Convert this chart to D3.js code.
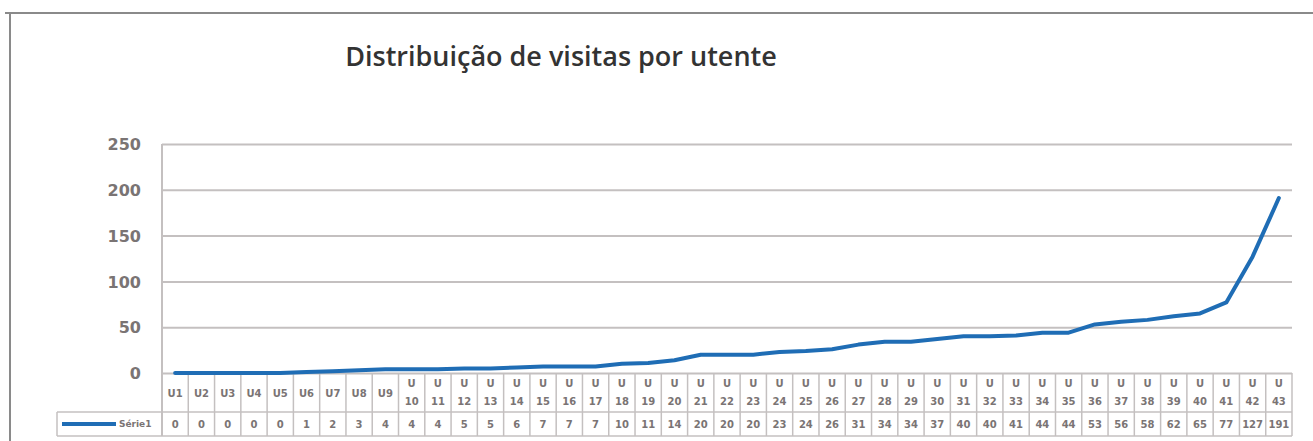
<!DOCTYPE html>
<html><head><meta charset="utf-8">
<script src="https://cdn.jsdelivr.net/npm/d3@7"></script>
<style>
html,body{margin:0;padding:0;background:#fff;}
svg{display:block;}
</style></head>
<body><svg id="c" width="1313" height="441"></svg>
<script>
const title = "Distribuição de visitas por utente";
const seriesName = "Série1";
const categories = ["U1","U2","U3","U4","U5","U6","U7","U8","U9","U10","U11","U12","U13","U14","U15","U16","U17","U18","U19","U20","U21","U22","U23","U24","U25","U26","U27","U28","U29","U30","U31","U32","U33","U34","U35","U36","U37","U38","U39","U40","U41","U42","U43"];
const values = [0,0,0,0,0,1,2,3,4,4,4,5,5,6,7,7,7,10,11,14,20,20,20,23,24,26,31,34,34,37,40,40,41,44,44,53,56,58,62,65,77,127,191];
const yTicks = [0,50,100,150,200,250];

const svg = d3.select("#c");
const L = 162, R = 1292, T = 144, B = 373;
const rowSplit = 412, tableBottom = 436, legendLeft = 57;
const grid = "#c4c0c0", textCol = "#7a7474", blue = "#1f6db5";

// chart frame
svg.append("line").attr("x1",5).attr("x2",1313).attr("y1",13).attr("y2",13).attr("stroke","#8a8a8a").attr("stroke-width",2);
svg.append("line").attr("x1",10).attr("x2",10).attr("y1",13).attr("y2",441).attr("stroke","#8a8a8a").attr("stroke-width",2);

// title
svg.append("text").attr("x",561).attr("y",66).attr("text-anchor","middle")
  .attr("font-family","Open Sans, sans-serif").attr("font-weight",600).attr("font-size",27)
  .attr("fill","#333").text(title);

const x = d3.scaleBand().domain(categories).range([L,R]);
const y = d3.scaleLinear().domain([0,250]).range([B,T]);

// gridlines + y labels
const yAxis = d3.axisLeft(y).tickValues(yTicks).tickSize(-(R-L)).tickFormat(d3.format("d"));
const ga = svg.append("g").attr("transform",`translate(${L},0)`).call(yAxis);
ga.select(".domain").remove();
ga.selectAll(".tick line").attr("stroke",grid).attr("stroke-width",2);
ga.selectAll(".tick text").attr("x",-21).attr("dy","0.35em")
  .attr("font-family","DejaVu Sans, sans-serif").attr("font-weight","bold").attr("font-size",16).attr("fill",textCol);

// left axis line
svg.append("line").attr("x1",L).attr("x2",L).attr("y1",T).attr("y2",tableBottom).attr("stroke",grid).attr("stroke-width",2);

// table lines
const bounds = categories.map(c=>x(c)).concat([R]);
svg.append("g").selectAll("line").data(bounds).join("line")
  .attr("x1",d=>d).attr("x2",d=>d).attr("y1",B).attr("y2",tableBottom)
  .attr("stroke",grid).attr("stroke-width",1.5);
svg.append("line").attr("x1",legendLeft).attr("x2",R).attr("y1",rowSplit).attr("y2",rowSplit).attr("stroke",grid).attr("stroke-width",1.5);
svg.append("line").attr("x1",legendLeft).attr("x2",R).attr("y1",tableBottom).attr("y2",tableBottom).attr("stroke",grid).attr("stroke-width",1.5);
svg.append("line").attr("x1",legendLeft).attr("x2",legendLeft).attr("y1",rowSplit).attr("y2",tableBottom).attr("stroke",grid).attr("stroke-width",1.5);

// header labels
const hdr = svg.append("g").attr("font-family","DejaVu Sans, sans-serif").attr("font-weight","bold").attr("font-size",10).attr("fill",textCol).attr("text-anchor","middle");
categories.forEach(c=>{
  const cx = x(c)+x.bandwidth()/2;
  const num = c.slice(1);
  if(num.length===1){
    hdr.append("text").attr("x",cx).attr("y",393).attr("dy","0.35em").text(c);
  } else {
    const t = hdr.append("text").attr("x",cx);
    t.append("tspan").attr("x",cx).attr("y",383).attr("dy","0.35em").text("U");
    t.append("tspan").attr("x",cx).attr("y",401).attr("dy","0.35em").text(num);
  }
});

// data row
svg.append("g").selectAll("text").data(values).join("text")
  .attr("x",(d,i)=>x(categories[i])+x.bandwidth()/2).attr("y",424).attr("dy","0.35em")
  .attr("text-anchor","middle").attr("font-family","DejaVu Sans, sans-serif").attr("font-weight","bold")
  .attr("font-size",10).attr("fill",textCol).text(d=>d);

// legend
svg.append("line").attr("x1",62).attr("x2",116).attr("y1",424).attr("y2",424).attr("stroke",blue).attr("stroke-width",4);
svg.append("text").attr("x",119).attr("y",424).attr("dy","0.35em").attr("font-family","DejaVu Sans, sans-serif")
  .attr("font-weight","bold").attr("font-size",9).attr("fill",textCol).text(seriesName);

// series line
const line = d3.line().x((d,i)=>x(categories[i])+x.bandwidth()/2).y(d=>y(d));
svg.append("path").datum(values).attr("d",line).attr("fill","none").attr("stroke",blue).attr("stroke-width",4).attr("stroke-linejoin","round").attr("stroke-linecap","round");
</script>
</body></html>
